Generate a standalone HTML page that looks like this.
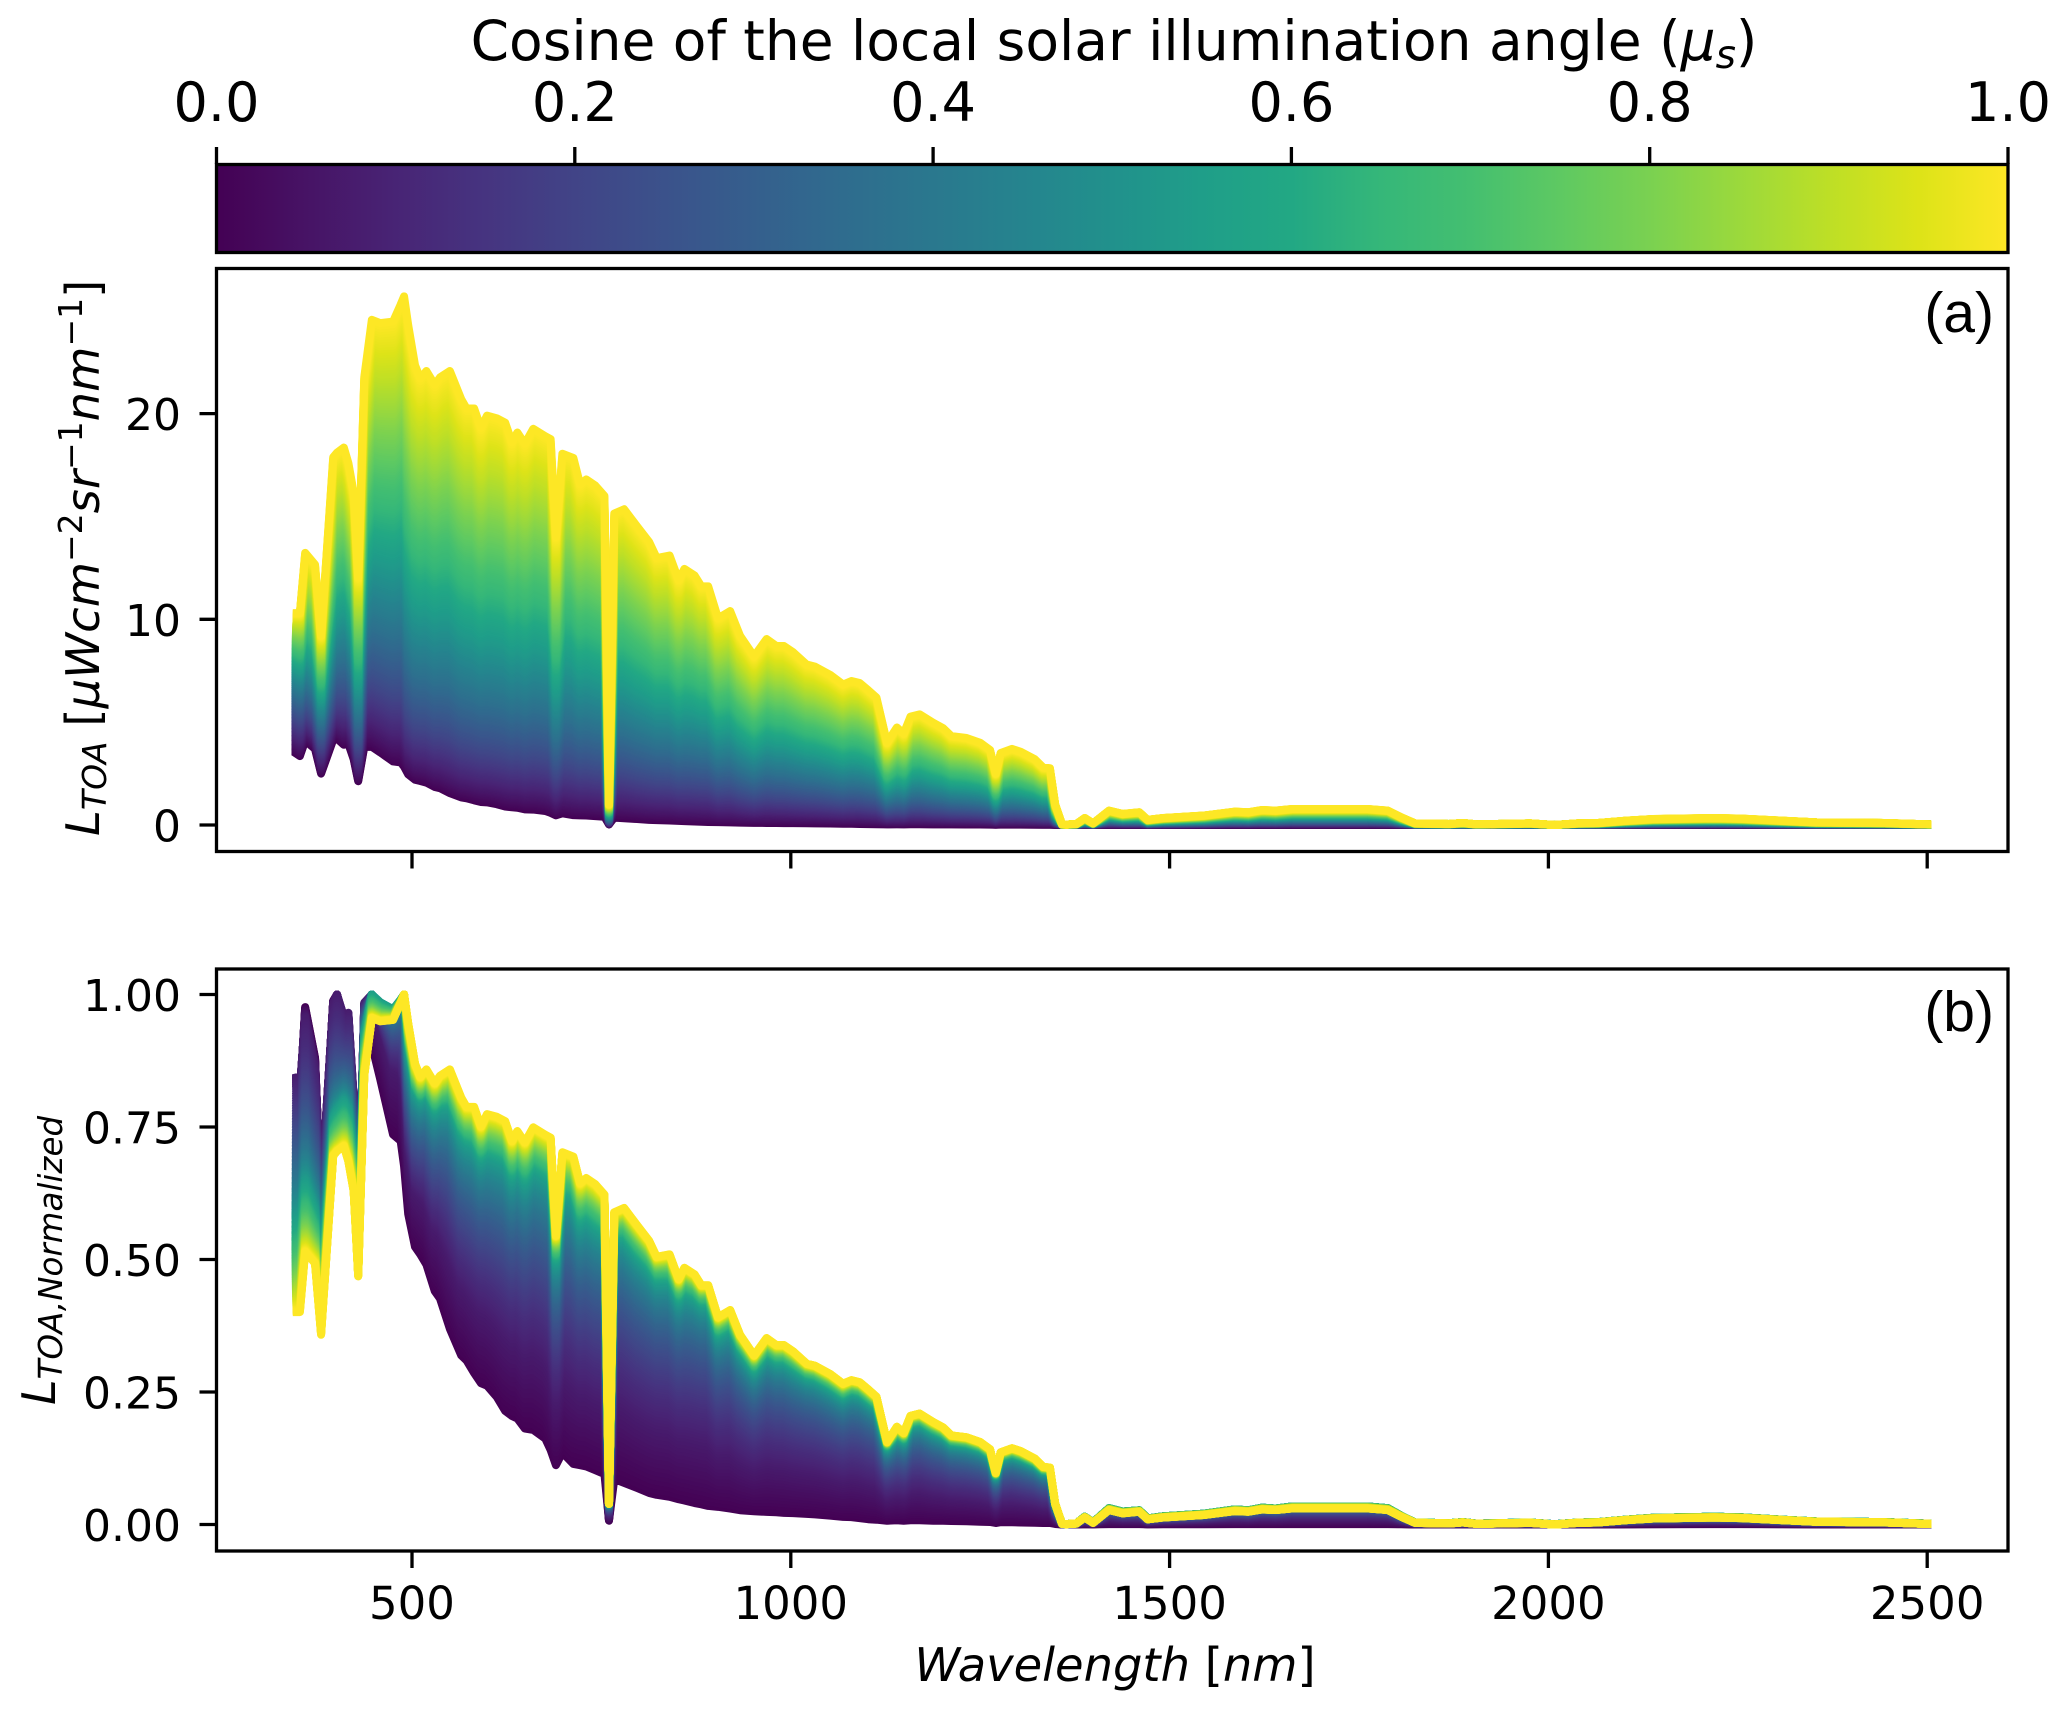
<!DOCTYPE html>
<html lang="en">
<head>
<meta charset="utf-8">
<title>Top-of-atmosphere radiance vs wavelength</title>
<style>
  html, body { margin: 0; padding: 0; background: #ffffff; }
  svg { display: block; }
  text { font-family: "DejaVu Sans", "Liberation Sans", sans-serif; fill: #000; }
  .panel-tag { font-family: "Liberation Sans", sans-serif; font-size: 57px; }
  .mathit { font-style: italic; }
</style>
</head>
<body>
<svg id="figure" xmlns="http://www.w3.org/2000/svg" width="2067" height="1709" viewBox="0 0 2067 1709">
  <defs>
    <linearGradient id="viridis-gradient" x1="0" x2="1" y1="0" y2="0"></linearGradient>
  </defs>
  <rect x="0" y="0" width="2067" height="1709" fill="#ffffff"></rect>

  <text x="1114" y="60" font-size="55" text-anchor="middle">Cosine of the local solar illumination angle (<tspan class="mathit">μ</tspan><tspan class="mathit" font-size="39" dy="8">s</tspan><tspan dy="-8">)</tspan></text>
  <rect x="216.5" y="164.5" width="1791.5" height="88" fill="url(#viridis-gradient)" stroke="#000" stroke-width="3.3"></rect>
  <g id="colorbar-ticks"></g>

  <g id="panel-a-curves"></g>
  <rect x="216.5" y="268.5" width="1791.5" height="583" fill="none" stroke="#000" stroke-width="3.3"></rect>
  <g id="panel-a-axes"></g>
  <text class="panel-tag" x="1994" y="332" text-anchor="end">(a)</text>
  <text transform="translate(99,836) rotate(-90)" font-size="46.5"><tspan class="mathit">L</tspan><tspan class="mathit" font-size="33" dy="7">TOA</tspan><tspan dy="-7"> [</tspan><tspan class="mathit">μWcm</tspan><tspan font-size="33" dy="-17">−2</tspan><tspan class="mathit" dy="17">sr</tspan><tspan font-size="33" dy="-17">−1</tspan><tspan class="mathit" dy="17">nm</tspan><tspan font-size="33" dy="-17">−1</tspan><tspan dy="17">]</tspan></text>

  <g id="panel-b-curves"></g>
  <rect x="216.5" y="969" width="1791.5" height="582" fill="none" stroke="#000" stroke-width="3.3"></rect>
  <g id="panel-b-axes"></g>
  <text class="panel-tag" x="1994" y="1031" text-anchor="end">(b)</text>
  <text transform="translate(55,1405) rotate(-90)" font-size="46"><tspan class="mathit">L</tspan><tspan class="mathit" font-size="32.5" dy="7">TOA,Normalized</tspan></text>
  <text x="1115" y="1681" font-size="46.4" text-anchor="middle"><tspan class="mathit">Wavelength</tspan> [<tspan class="mathit">nm</tspan>]</text>
</svg>

<script>
// Wavelength of each sampled vertex [nm]
const wavelengths = [348,352,359,372,380,396,401,410,416,423,429,437,447,458,475,485,489.5,495,504,511,519,530,537,550,565,572,582,591,599,612,623,632,639,649,660,676,683,690,698.5,713,722,730,742,754,760,767,780,797,813,823,840,852,859.5,873,882,891,904,920,933,951.5,968,981,991,1003,1021,1032,1052,1069,1080,1091,1102,1113,1127,1140,1149,1158,1170,1188,1201,1212,1232,1250,1263,1270.5,1277,1292,1303.5,1322,1333,1342,1349,1358,1364,1377,1388,1399,1420,1438,1460,1471,1491.5,1545,1586,1604,1622,1640,1662,1707,1761,1788,1806,1824,1869,1887,1905,1976,2008,2039,2066,2102,2138,2219,2255,2309,2354,2443,2500];

// Radiance at mu_s = 0 (bottom purple curve)
const radianceMu0 = [3.45,3.35,4.1,3.7,2.5,4.15,4.2,3.9,3.95,3.2,2.13,3.8,3.8,3.53,3.09,3.04,2.84,2.46,2.2,2.14,2.06,1.85,1.79,1.55,1.34,1.3,1.2,1.12,1.1,1.01,0.9,0.86,0.84,0.76,0.75,0.68,0.59,0.47,0.57,0.48,0.47,0.46,0.43,0.4,0.03,0.36,0.33,0.29,0.25,0.235,0.22,0.2,0.19,0.17,0.16,0.147,0.14,0.126,0.113,0.105,0.1,0.097,0.092,0.09,0.084,0.08,0.07,0.06,0.058,0.05,0.042,0.038,0.03,0.034,0.03,0.034,0.034,0.03,0.03,0.028,0.026,0.022,0.02,0.012,0.018,0.018,0.016,0.014,0.012,0.012,0.004,0,0,0,0.002,0.001,0.003,0.003,0.003,0.001,0.002,0.002,0.003,0.003,0.003,0.003,0.003,0.003,0.003,0.003,0.002,0,0,0,0,0,0,0,0,0.001,0.002,0.003,0.003,0.002,0.001,0,0];

// Radiance at mu_s = 0.5 (teal level)
const radianceMuHalf = [7.4,7.3,8.2,7.5,5.9,9.6,9.8,10,9.8,8.8,6.5,11.5,12.4,12.2,12,12.2,12.3,11,10,9.8,9.9,9.5,9.6,9.6,8.9,8.75,8.65,8.35,8.45,8.35,8.25,7.9,8.1,7.8,8.1,7.9,7.8,6,7.5,7.35,6.85,6.95,6.75,6.6,0.47,6.5,6.5,6.1,5.8,5.55,5.55,5.1,5.25,5.15,5,5,4.3,4.45,3.95,3.5,3.85,3.7,3.7,3.55,3.35,3.3,3.1,2.9,3,2.95,2.8,2.65,1.75,2,1.9,2.25,2.3,2.1,2,1.85,1.8,1.7,1.55,1.1,1.5,1.57,1.5,1.36,1.2,1.18,0.45,0.015,0.01,0.025,0.18,0.05,0.38,0.3,0.33,0.14,0.19,0.25,0.35,0.33,0.39,0.37,0.42,0.42,0.42,0.38,0.2,0.045,0.03,0.055,0.02,0.045,0.005,0.045,0.055,0.11,0.155,0.18,0.165,0.11,0.07,0.055,0.02];

// Radiance at mu_s = 1 (top yellow curve)
const radianceMu1 = [10.3,10.3,13.23,12.66,9.2,17.88,18.1,18.35,17.6,16.16,12.03,21.77,24.56,24.4,24.47,25.3,25.7,24.3,22.35,21.7,22.07,21.4,21.76,22.07,20.7,20.25,20.25,19.3,19.9,19.77,19.56,18.6,19.08,18.53,19.26,18.9,18.76,14,18.05,17.84,16.55,16.8,16.5,16,1,15.14,15.35,14.52,13.76,12.98,13.1,11.9,12.45,12.13,11.6,11.6,10.05,10.4,9.2,8.2,9.04,8.7,8.7,8.4,7.8,7.7,7.3,6.83,7,6.9,6.56,6.2,4,4.74,4.44,5.27,5.38,4.97,4.71,4.32,4.23,4,3.65,2.5,3.5,3.7,3.56,3.2,2.8,2.76,1,0.03,0.02,0.05,0.34,0.08,0.7,0.54,0.62,0.25,0.34,0.46,0.65,0.62,0.73,0.7,0.78,0.78,0.78,0.7,0.37,0.08,0.05,0.1,0.03,0.08,0,0.08,0.1,0.21,0.29,0.34,0.31,0.21,0.13,0.1,0.03];

// Axis tick values and labels
const xTickValues = [500, 1000, 1500, 2000, 2500];
const xTickLabels = ["500", "1000", "1500", "2000", "2500"];
const panelATickValues = [0, 10, 20];
const panelATickLabels = ["0", "10", "20"];
const panelBTickValues = [0, 0.25, 0.5, 0.75, 1];
const panelBTickLabels = ["0.00", "0.25", "0.50", "0.75", "1.00"];
const colorbarTickValues = [0, 0.2, 0.4, 0.6, 0.8, 1];
const colorbarTickLabels = ["0.0", "0.2", "0.4", "0.6", "0.8", "1.0"];

// Colormap table (viridis sampled every 0.05)
const viridisTable = ["#440154","#471365","#482475","#463480","#414487","#3b528b","#355f8d","#2f6c8e","#2a788e","#25848e","#21918c","#1f9e89","#22a884","#35b779","#44bf70","#5ec962","#7ad151","#9bd93c","#bddf26","#dde318","#fde725"];

const levelCount = 220;
const curveWidth = 8;

const SVG_NS = "http://www.w3.org/2000/svg";

function xScale(w) { return 412 + (w - 500) * 0.7576; }
function yScaleA(v) { return 825 - v * 20.57; }
function yScaleB(v) { return 1524.5 - v * 530; }
function colorbarScale(m) { return 216.5 + m * 1791.5; }

function hexToRgb(h) {
  return [parseInt(h.slice(1, 3), 16), parseInt(h.slice(3, 5), 16), parseInt(h.slice(5, 7), 16)];
}
function viridis(m) {
  const p = Math.max(0, Math.min(1, m)) * (viridisTable.length - 1);
  const i = Math.min(Math.floor(p), viridisTable.length - 2);
  const t = p - i;
  const a = hexToRgb(viridisTable[i]);
  const b = hexToRgb(viridisTable[i + 1]);
  return "rgb(" + a.map(function (c, k) { return Math.round(c + (b[k] - c) * t); }).join(",") + ")";
}
// Quadratic through the three read curves at a given mu_s
function radianceAt(idx, m) {
  const l0 = radianceMu0[idx], lm = radianceMuHalf[idx], l1 = radianceMu1[idx];
  return l0 * 2 * (m - 0.5) * (m - 1) + lm * (-4) * m * (m - 1) + l1 * 2 * m * (m - 0.5);
}

const gradient = document.getElementById("viridis-gradient");
viridisTable.forEach(function (c, i) {
  const stop = document.createElementNS(SVG_NS, "stop");
  stop.setAttribute("offset", i / (viridisTable.length - 1));
  stop.setAttribute("stop-color", c);
  gradient.appendChild(stop);
});

function makeCurve(values, yScale, color) {
  const path = document.createElementNS(SVG_NS, "path");
  let d = "";
  for (let i = 0; i < values.length; i++) {
    d += (i ? "L" : "M") + xScale(wavelengths[i]).toFixed(2) + " " + yScale(values[i]).toFixed(2);
  }
  path.setAttribute("d", d);
  path.setAttribute("fill", "none");
  path.setAttribute("stroke", color);
  path.setAttribute("stroke-width", curveWidth);
  path.setAttribute("stroke-linejoin", "round");
  path.setAttribute("stroke-linecap", "square");
  return path;
}

const groupA = document.getElementById("panel-a-curves");
const groupB = document.getElementById("panel-b-curves");
for (let k = 0; k < levelCount; k++) {
  const m = k / (levelCount - 1);
  const vals = wavelengths.map(function (w, i) { return radianceAt(i, m); });
  const peak = Math.max.apply(null, vals);
  const norm = vals.map(function (v) { return v / peak; });
  const color = viridis(m);

  const curveA = makeCurve(vals, yScaleA, color);
  
  
  groupA.appendChild(curveA);

  const curveB = makeCurve(norm, yScaleB, color);
  
  
  groupB.appendChild(curveB);
}

function makeLine(x1, y1, x2, y2) {
  const l = document.createElementNS(SVG_NS, "line");
  l.setAttribute("x1", x1);
  l.setAttribute("y1", y1);
  l.setAttribute("x2", x2);
  l.setAttribute("y2", y2);
  l.setAttribute("stroke", "#000");
  l.setAttribute("stroke-width", "3.3");
  return l;
}
function makeText(x, y, str, size, anchor) {
  const t = document.createElementNS(SVG_NS, "text");
  t.setAttribute("x", x);
  t.setAttribute("y", y);
  t.setAttribute("font-size", size);
  t.setAttribute("text-anchor", anchor);
  t.textContent = str;
  return t;
}

const cbGroup = document.getElementById("colorbar-ticks");
colorbarTickValues.forEach(function (v, i) {
  const x = colorbarScale(v);
  const tick = makeLine(x, 147, x, 164);
  
  
  cbGroup.appendChild(tick);
  const label = makeText(x, 121, colorbarTickLabels[i], 54, "middle");
  
  
  cbGroup.appendChild(label);
});

const axesA = document.getElementById("panel-a-axes");
panelATickValues.forEach(function (v, i) {
  const y = yScaleA(v);
  const tick = makeLine(199.5, y, 216.5, y);
  
  
  axesA.appendChild(tick);
  const label = makeText(181, y + 16.5, panelATickLabels[i], 44, "end");
  
  
  axesA.appendChild(label);
});
xTickValues.forEach(function (v) {
  const x = xScale(v);
  const tick = makeLine(x, 851.5, x, 868.5);
  
  
  axesA.appendChild(tick);
});

const axesB = document.getElementById("panel-b-axes");
panelBTickValues.forEach(function (v, i) {
  const y = yScaleB(v);
  const tick = makeLine(199.5, y, 216.5, y);
  
  
  axesB.appendChild(tick);
  const label = makeText(181, y + 16.5, panelBTickLabels[i], 44, "end");
  
  
  axesB.appendChild(label);
});
xTickValues.forEach(function (v, i) {
  const x = xScale(v);
  const tick = makeLine(x, 1551, x, 1568);
  
  
  axesB.appendChild(tick);
  const label = makeText(x, 1619, xTickLabels[i], 45, "middle");
  
  
  axesB.appendChild(label);
});
</script>
</body>
</html>
